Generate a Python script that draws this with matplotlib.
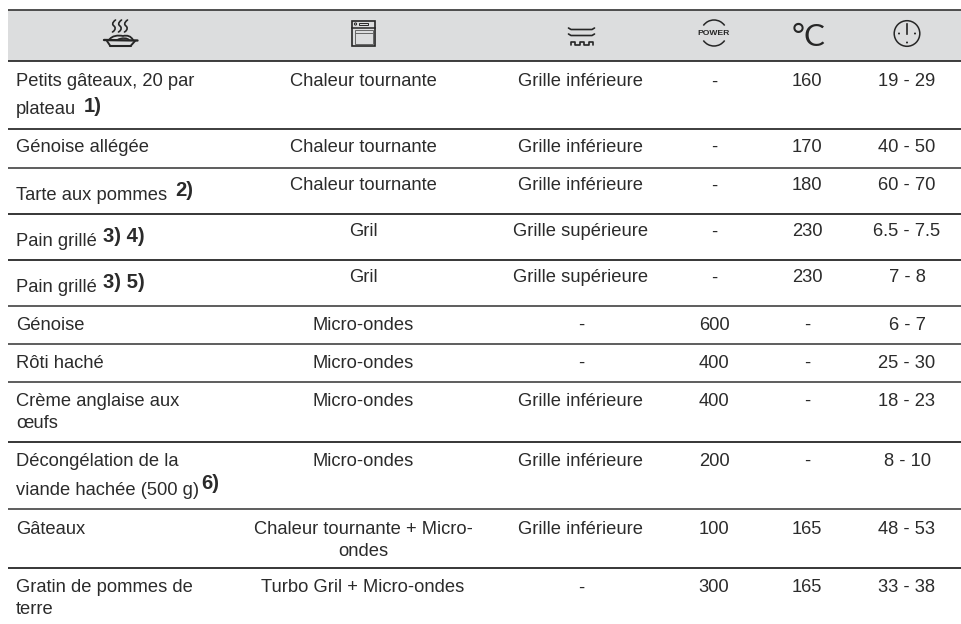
import matplotlib
matplotlib.use("Agg")
import matplotlib.pyplot as plt
from matplotlib.patches import Rectangle, Circle, Arc, PathPatch
from matplotlib.path import Path

plt.rcParams['font.family'] = ['Liberation Sans', 'DejaVu Sans']

# ---- table content ----
dishes = [
    ["Petits gâteaux, 20 par", "plateau"], ["Génoise allégée"], ["Tarte aux pommes"],
    ["Pain grillé"], ["Pain grillé"], ["Génoise"], ["Rôti haché"],
    ["Crème anglaise aux", "œufs"], ["Décongélation de la", "viande hachée (500 g)"],
    ["Gâteaux"], ["Gratin de pommes de", "terre"],
]
notes = ["1)", "", "2)", "3) 4)", "3) 5)", "", "", "", "6)", "", ""]
functions = [
    ["Chaleur tournante"], ["Chaleur tournante"], ["Chaleur tournante"], ["Gril"], ["Gril"],
    ["Micro-ondes"], ["Micro-ondes"], ["Micro-ondes"], ["Micro-ondes"],
    ["Chaleur tournante + Micro-", "ondes"], ["Turbo Gril + Micro-ondes"],
]
shelves = ["Grille inférieure", "Grille inférieure", "Grille inférieure", "Grille supérieure",
           "Grille supérieure", "-", "-", "Grille inférieure", "Grille inférieure",
           "Grille inférieure", "-"]
power = ["-", "-", "-", "-", "-", "600", "400", "400", "200", "100", "300"]
temps = ["160", "170", "180", "230", "230", "-", "-", "-", "-", "165", "165"]
times = ["19 - 29", "40 - 50", "60 - 70", "6.5 - 7.5", "7 - 8", "6 - 7", "25 - 30",
         "18 - 23", "8 - 10", "48 - 53", "33 - 38"]

# ---- layout (pixels) ----
W, H = 961, 624
rule_y = [10, 61, 129, 167.5, 214, 260, 306, 344, 381.5, 441.5, 509, 568]
rule_colors = ["#3a3a3a", "#262626", "#262626", "#4a4a4a", "#1e1e1e", "#1e1e1e", "#4a4a4a",
               "#4a4a4a", "#4a4a4a", "#1e1e1e", "#4a4a4a", "#1e1e1e"]
left_x, right_x = 8, 961
dish_x = 16
col_x = [363, 581, 714, 807, 907]
base_left = [86.5, 152, 199.5, 245.5, 291.5, 329.5, 367.5, 405.5, 465.5, 533.5, 592.5]
base_mid = [86.5, 152, 190.5, 236.5, 282.5, 329.5, 367.5, 405.5, 465.5, 533.5, 592.5]
line_gap = [27.5, 0, 0, 0, 0, 0, 0, 22, 29.5, 0, 21]
note_lift = [2.5, 0, 3, 4, 4, 0, 0, 0, 6, 0, 0]
note_adv = [8, 0, 8, 6, 6, 0, 0, 0, 2, 0, 0]
func_gap = 22
FS = 13.2
NOTE_FS = 14.6
TXT = "#2b2b2b"
ICON = "#262626"

fig = plt.figure(figsize=(W / 100, H / 100), dpi=100)
ax = fig.add_axes([0, 0, 1, 1])
ax.set_xlim(0, W)
ax.set_ylim(H, 0)
ax.axis("off")

ax.add_patch(Rectangle((left_x, rule_y[0]), right_x - left_x, rule_y[1] - rule_y[0],
                       fc="#dcddde", ec="none", zorder=0))
for y, c in zip(rule_y, rule_colors):
    ax.plot([left_x, right_x], [y, y], color=c, lw=1.25, solid_capstyle="butt", zorder=1)

renderer = fig.canvas.get_renderer()


def put(x, y, s, ha="center", **kw):
    return ax.text(x, y, s, ha=ha, va="baseline", fontsize=kw.pop("fs", FS),
                   color=TXT, **kw)


for i in range(len(dishes)):
    y0 = base_left[i]
    last = None
    for k, line in enumerate(dishes[i]):
        last = put(dish_x, y0 + k * line_gap[i], line, ha="left")
    if notes[i]:
        ext = last.get_window_extent(renderer)
        put(ext.x1 + note_adv[i], y0 + (len(dishes[i]) - 1) * line_gap[i] - note_lift[i],
            notes[i], ha="left", fs=NOTE_FS, fontweight="bold")
    ym = base_mid[i]
    for k, line in enumerate(functions[i]):
        put(col_x[0], ym + k * func_gap, line)
    for cx, val in zip(col_x[1:], (shelves[i], power[i], temps[i], times[i])):
        put(cx, ym, val)

# ---- header icons ----
def curve(verts, codes, lw=1.3, fc="none"):
    ax.add_patch(PathPatch(Path(verts, codes), fc=fc, ec=ICON, lw=lw, capstyle="round",
                           joinstyle="round", zorder=3))


M, L, C4 = Path.MOVETO, Path.LINETO, Path.CURVE4
# dish with steam
for sx in (114, 120, 126):
    curve([(sx + 1.5, 20), (sx - 2.5, 23), (sx - 1.5, 25), (sx, 26), (sx + 1.5, 27), (sx + 2, 30), (sx - 1.5, 32)],
          [M, C4, C4, C4, C4, C4, C4], lw=1.2)
curve([(104, 40), (137.5, 40.5)], [M, L], lw=1.7)
curve([(109, 40), (112, 35.5), (118, 35), (123, 36), (127, 35), (131, 36), (133, 40)],
      [M, C4, C4, C4, C4, C4, C4], lw=1.3)
curve([(107, 41), (110, 45.5)], [M, L], lw=1.4)
curve([(135, 41), (131, 45.5)], [M, L], lw=1.4)
curve([(110, 45.5), (131, 45.5)], [M, L], lw=1.5)
curve([(117, 40), (122, 37), (128, 38), (129, 40)], [M, C4, C4, C4], lw=1.1)

# oven
ax.add_patch(Rectangle((352, 20.5), 23, 25.5, fc="none", ec=ICON, lw=1.2, zorder=3))
ax.plot([352, 375], [28, 28], color=ICON, lw=1.1, zorder=3)
ax.add_patch(Rectangle((354.5, 29.5), 18, 14.5, fc="none", ec="#666666", lw=0.7, zorder=3))
ax.plot([354.5, 372.5], [32.5, 32.5], color="#666666", lw=0.7, zorder=3)
ax.add_patch(Circle((355.5, 24), 1.1, fc="none", ec=ICON, lw=0.7, zorder=3))
ax.add_patch(Rectangle((359, 23), 9, 2, fc="none", ec=ICON, lw=0.7, zorder=3))

# shelf position
for ry in (29.5, 35.5):
    curve([(568.5, ry - 1.5), (571, ry), (592, ry), (594.5, ry - 1.5)], [M, L, L, L], lw=1.2)
curve([(570.5, 44.5), (570.5, 42), (575, 42), (575, 44.5), (579.5, 44.5), (579.5, 42),
       (584, 42), (584, 44.5), (588.5, 44.5), (588.5, 42), (593, 42), (593, 44.5)],
      [M] + [L] * 11, lw=1.2)

# power
for a, b in ((35, 145), (215, 325)):
    ax.add_patch(Arc((714, 33), 26, 26, theta1=a, theta2=b, ec=ICON, lw=1.1, zorder=3))
ax.text(714, 33.3, "POWER", ha="center", va="center", fontsize=6.1, fontweight="bold",
        color=ICON, zorder=3)

# degrees Celsius
ax.text(791.5, 46.5, "°C", ha="left", va="baseline", fontsize=22.5, family="Lato", color=ICON,
        zorder=3)

# clock
ax.add_patch(Circle((907, 33.5), 12.8, fc="none", ec=ICON, lw=1.1, zorder=3))
ax.plot([907, 907], [24, 34], color=ICON, lw=1.2, zorder=3)
for d in ((899, 33.5), (915, 33.5), (907, 42.5)):
    ax.add_patch(Circle(d, 1.0, fc=ICON, ec="none", zorder=3))

fig.savefig("out.png", dpi=100, facecolor="white")
